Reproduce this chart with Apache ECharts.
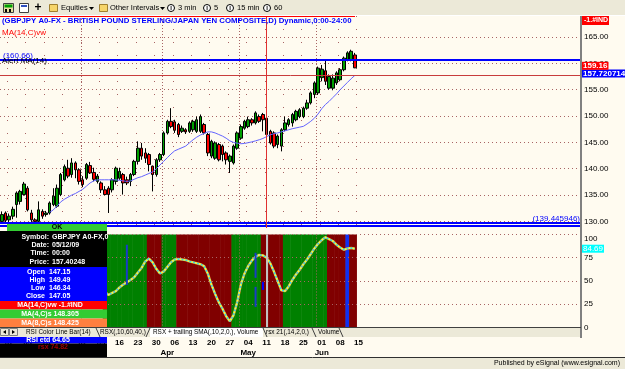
<!DOCTYPE html>
<html><head><meta charset="utf-8">
<script src="https://cdn.jsdelivr.net/npm/echarts@6/dist/echarts.min.js"></script>
<style>html,body{margin:0;padding:0;background:#fffbf0;overflow:hidden}#c{width:625px;height:369px}</style>
</head><body><div id="c"></div>
<script>
// ---------- data ----------
const firstDate = '2009-01-29';
const dayCount = 158;
const opens  = [130.0,131.6,130.3,131.0,133.2,133.8,135.1,136.3,131.6,130.3,130.0,131.9,131.3,131.6,133.2,132.9,135.1,137.9,140.1,138.9,141.1,139.8,137.9,138.2,140.6,139.3,137.6,137.3,136.0,136.3,136.0,137.6,138.2,138.9,137.9,137.6,138.9,141.4,143.9,143.0,142.7,140.5,138.9,141.7,142.7,146.8,149.0,148.9,148.4,147.1,147.4,147.1,147.4,147.1,147.1,148.4,146.5,142.4,142.0,144.6,144.3,143.0,141.4,141.1,143.9,145.8,147.7,148.0,149.3,148.7,149.9,150.3,149.6,147.1,146.8,144.6,144.3,147.4,148.4,148.7,149.3,149.9,149.9,151.5,152.5,154.1,154.4,157.3,158.6,155.3,155.3,156.3,156.9,158.8,160.7,160.7,161.6];
const highs  = [131.9,131.9,131.5,132.8,135.7,136.0,137.5,136.7,132.2,130.6,133.8,132.3,132.0,133.8,136.3,137.0,139.2,140.8,141.7,142.0,141.4,140.1,138.6,141.1,141.3,140.2,139.0,137.6,136.7,136.7,138.2,140.4,140.2,139.2,138.5,139.2,141.7,145.2,144.9,143.9,143.0,140.6,142.0,143.0,147.1,149.3,151.5,149.3,148.7,148.2,147.7,149.0,149.3,149.9,150.3,148.7,146.8,145.5,145.2,144.9,144.6,143.3,142.7,144.6,147.1,148.4,149.3,149.9,149.6,150.9,150.3,150.6,150.0,147.4,147.1,146.5,147.7,149.9,149.6,150.6,151.2,151.5,151.8,153.1,154.7,156.6,159.4,159.7,160.6,157.9,157.9,158.5,159.1,161.3,162.3,162.6,162.0];
const lows   = [129.7,129.7,129.5,130.4,130.7,133.2,134.9,131.9,129.9,129.7,129.7,130.5,130.9,131.3,132.9,132.6,134.8,137.6,138.2,138.3,138.2,137.0,136.5,137.9,139.0,137.6,137.2,135.4,135.0,131.6,135.5,137.0,137.9,135.1,136.9,136.7,138.6,140.8,141.7,141.1,139.5,135.7,138.5,141.3,142.4,146.5,147.7,146.8,146.0,146.8,146.6,146.8,147.0,146.8,146.8,146.5,142.4,142.0,141.7,141.4,141.4,140.8,139.2,140.8,143.6,145.5,147.4,147.7,148.2,148.4,148.7,147.1,146.1,144.6,143.9,143.9,143.3,147.1,148.0,148.0,149.0,149.6,149.6,151.2,152.2,153.4,154.0,156.6,155.9,155.0,154.9,155.9,156.6,158.5,160.4,160.4,159.1];
const closes = [131.3,130.2,131.0,132.3,135.4,135.7,137.1,132.2,130.3,130.0,132.2,131.0,131.6,133.5,134.8,136.3,138.9,140.4,138.6,141.1,139.8,137.6,137.0,140.8,139.2,138.0,138.6,136.0,135.1,135.1,137.9,140.1,139.5,137.3,137.3,138.9,141.4,143.9,142.4,142.0,140.8,138.9,141.7,142.7,146.8,149.0,148.0,147.3,146.5,147.7,147.0,148.7,149.0,149.3,149.9,146.8,143.0,145.2,144.9,141.7,142.7,141.7,142.4,144.3,146.8,148.0,149.0,149.3,148.7,150.6,149.0,149.3,146.5,144.9,144.3,146.2,147.4,148.7,149.3,150.3,150.9,151.2,151.5,152.5,154.4,156.3,159.1,158.9,156.6,157.5,157.2,158.2,158.8,161.0,162.0,162.3,159.16];
// MA(14,C)vw, starting at bar 13
const maStart = 13;
const maValues = [131.7,132.2,132.9,133.7,134.2,134.6,135.0,135.3,135.7,136.1,136.7,137.3,137.7,137.9,137.9,137.9,137.9,137.9,137.9,137.8,137.7,137.6,137.7,138.0,138.3,138.5,138.8,139.1,139.4,140.0,140.7,141.4,142.1,142.8,143.4,143.7,144.0,144.3,144.9,145.5,146.0,146.4,146.7,147.0,147.0,146.8,146.5,146.2,145.8,145.3,145.0,144.85,144.75,144.8,144.95,145.1,145.3,145.5,145.75,146.1,146.45,146.65,146.8,147.0,147.2,147.4,147.6,147.75,147.9,148.05,148.5,149.0,149.6,150.4,151.4,152.2,152.8,153.5,154.2,155.0,155.7,156.4,157.1,157.72];
// RSX oscillator, starting at bar 28
const rsxStart = 28;
const rsxValues = [38,35,37,39,43,46,48.5,51,54,59,64,71,74,70,63,58,60,65,70,73,73.5,73,72.5,71,70,69,68,66,58,46,36,27,20,12,6.5,13,27,46,58,66,72,76,78,77.5,75,69,60,50,40,39,44,51,57,62,68,73,79,85,90,94,97,95,93,89,86,83.5,85,85.5,84.69];
const bandCodes = ('gggggggggggg'+'rrrr'+'gggg'+'rrrrrrrrrrrrrrr'+'gggggggg'+'rrrrrr'+'gggggggggggg'+'rrrrr'+'b'+'rr').split('');
// blue marker segments in the oscillator pane: [bar index, low, high]
const markerBars = [34, 69, 69, 71];
const markerLows = [45.7, 53.3, 22, 40.3];
const markerHighs = [89, 80.3, 43.6, 49];
// reference levels
const alertLevel = 160.66;
const maLastLevel = 157.720714;
const lastPrice = 159.16;
const bottomLevels = [129.73, 129.16];
const rsxLast = 84.69;
const cursorDate = '2009-05-11';
// ticks
const priceTicks = [130,135,140,145,150,155,160,165];
const weekTickDates = ['2009-02-02','2009-02-09','2009-02-16','2009-02-23','2009-03-02','2009-03-09','2009-03-16','2009-03-23','2009-03-30','2009-04-06','2009-04-13','2009-04-20','2009-04-27','2009-05-04','2009-05-11','2009-05-18','2009-05-25','2009-06-01','2009-06-08','2009-06-15'];
const monthLabelDates = ['2009-04-02','2009-05-04','2009-06-01'];
const monthLabels = ['Apr','May','Jun'];
const monthLineDates = ['2009-03-02','2009-04-01','2009-04-30','2009-05-29'];

// ---------- build ----------
function weekdays(start, n){
  const out=[]; const d=new Date(start+'T00:00:00Z');
  while(out.length<n){ const w=d.getUTCDay(); if(w>0&&w<6) out.push(d.toISOString().slice(0,10)); d.setUTCDate(d.getUTCDate()+1); }
  return out;
}
const dates = weekdays(firstDate, dayCount);
const ohlc = opens.map((o,i)=>[o, closes[i], lows[i], highs[i]]);
const maData = dates.map((d,i)=> (i>=maStart && i-maStart<maValues.length) ? maValues[i-maStart] : null);
const rsxData = dates.map((d,i)=> (i>=rsxStart && i-rsxStart<rsxValues.length) ? rsxValues[i-rsxStart] : null);
const bandColor = {g:'#008000', r:'#800000', b:'#1030f0'};
const bandData = dates.map((d,i)=>{
  const c = bandCodes[i-rsxStart];
  return (i>=rsxStart && c) ? {value:100, itemStyle:{color:bandColor[c]}} : null;
});
const markerData = markerBars.map((b,i)=>({value:[b, markerLows[i], markerHighs[i]], itemStyle:{color: i===3 ? '#0000ff' : '#1a3cc8'}}));

const FONT = '"Liberation Sans", Arial, sans-serif';
const dot = '#a86464';
const clear = 'rgba(0,0,0,0)';

function T(x,y,text,o){ o=o||{}; return {type:'text', x:x, y:y, z:110, silent:true,
  style:{text:text, fill:o.fill||'#000', font:(o.bold?'bold ':'')+(o.size||8)+'px '+FONT,
    textAlign:o.align||'left', align:o.align||'left', textVerticalAlign:'middle', verticalAlign:'middle'}}; }
function R(x,y,w,h,fill,stroke){ return {type:'rect', z:100, silent:true, shape:{x:x,y:y,width:w,height:h}, style:{fill:fill, stroke:stroke||null, lineWidth:1}}; }
function L(x1,y1,x2,y2,stroke,w){ return {type:'line', z:105, silent:true, shape:{x1:x1,y1:y1,x2:x2,y2:y2}, style:{stroke:stroke, lineWidth:w||1}}; }
function P(points, fill){ return {type:'polygon', z:106, silent:true, shape:{points:points}, style:{fill:fill}}; }
function C(cx,cy,r){ return {type:'circle', z:106, silent:true, shape:{cx:cx,cy:cy,r:r}, style:{fill:'#fff', stroke:'#000', lineWidth:1}}; }

const g = [];
// toolbar
g.push(R(0,0,625,16,'#ece9d8'));
g.push(L(0,15.5,625,15.5,'#ffffff',1));
g.push(R(3.5,3.5,10,9,'#e8e0a0','#404040'));
g.push(R(4.5,4.5,8,3,'#00a000'));
g.push(R(5,9,2,3,'#000'),R(9,9,2,3,'#000'));
g.push(R(19.5,3.5,9,9,'#ffffff','#404040'));
g.push(R(21,5,6,2,'#3050c0'));
g.push(T(38,8,'+',{bold:true,size:12,align:'center'}));
g.push(R(49.5,4.5,8,7,'#f6d56a','#a08030'));
g.push(T(61,8,'Equities',{size:7.5}));
g.push(P([[89,7],[94,7],[91.5,10]],'#000'));
g.push(R(99.5,4.5,8,7,'#f6d56a','#a08030'));
g.push(T(110,8,'Other Intervals',{size:7.5}));
g.push(P([[160,7],[165,7],[162.5,10]],'#000'));
[[171,178,'3 min'],[207,214,'5'],[230,237,'15 min'],[267,274,'60']].forEach(function(a){
  g.push(C(a[0],8,3.5)); g.push(T(a[0],8,'I',{bold:true,size:6,align:'center'})); g.push(T(a[1],8,a[2],{size:7.5}));
});
// chart title & labels
g.push(L(0,16.5,355,16.5,'#ff0000',1));
g.push(T(2,21,'(GBPJPY A0-FX - BRITISH POUND STERLING/JAPAN YEN COMPOSITE,D) Dynamic,0:00-24:00',{bold:true,size:7.8,fill:'#0000ff'}));
g.push(T(2,33,'MA(14,C)vw',{fill:'#ff0000'}));
g.push(T(2,61,'Alert MA(14)',{fill:'#000'}));
g.push(R(582,16,27,9,'#ff0000'));
g.push(T(584,20.5,'-1.#IND',{bold:true,size:7,fill:'#fff'}));
// right axis separator
g.push(L(581,16,581,338,'#808080',2));
// tab bar
g.push(R(0,327,581,10,'#ece9d8'));
g.push(L(0,327.5,581,327.5,'#404040',1));
g.push(R(150,328,113,9,'#ffffff'));
g.push(L(150,328,146,337,'#404040',1),L(263,328,267,337,'#404040',1));
g.push(L(96,328,100,337,'#404040',1),L(312,328,316,337,'#404040',1),L(339,328,343,337,'#404040',1));
g.push(T(26,332.5,'RSI Color Line Bar(14)',{size:6.4}));
g.push(T(100,332.5,'RSX(,10,60,40,)',{size:6.4}));
g.push(T(153,332.5,'RSX + trailing SMA(,10,2,0,), Volume',{size:6.4}));
g.push(T(266,332.5,'rsx 21(,14,2,0,)',{size:6.4}));
g.push(T(318,332.5,'Volume',{size:6.4}));
// bottom status strip
g.push(L(0,357.5,625,357.5,'#303030',1));
g.push(R(0,358,625,11,'#ece9d8'));
g.push(T(620,363.5,'Published by eSignal (www.esignal.com)',{size:7,align:'right'}));
// data window
g.push(R(7,224,100,7,'#33cc33'));
g.push(T(57,227.5,'OK',{size:7,bold:true,align:'center'}));
g.push(R(0,231,107,36,'#000000'));
[['Symbol:','GBPJPY A0-FX,0',236.7],['Date:','05/12/09',245],['Time:','00:00',253.3],['Price:','157.40248',261.7]].forEach(function(r){
  g.push(T(49,r[2],r[0],{bold:true,size:7,fill:'#fff',align:'right'})); g.push(T(52,r[2],r[1],{bold:true,size:7,fill:'#fff'}));
});
g.push(R(0,267,107,34,'#0000ff'));
[['Open','147.15',271.7],['High','149.49',280],['Low','146.34',288.3],['Close','147.05',296.3]].forEach(function(r){
  g.push(T(45,r[2],r[0],{bold:true,size:7,fill:'#fff',align:'right'})); g.push(T(49,r[2],r[1],{bold:true,size:7,fill:'#fff'}));
});
g.push(R(0,301,107,8.5,'#ff0000'));
g.push(T(50,305.3,'MA(14,C)vw -1.#IND',{bold:true,size:7,fill:'#fff',align:'center'}));
g.push(R(0,309.5,107,9,'#33cc33'));
g.push(T(50,314,'MA(4,C)s 148.305',{bold:true,size:7,fill:'#fff',align:'center'}));
g.push(R(0,318.5,107,8.5,'#ff7f3f'));
g.push(T(50,322.7,'MA(8,C)s 148.425',{bold:true,size:7,fill:'#fff',align:'center'}));
g.push(R(0,337,107,6.5,'#0000ff'));
g.push(T(48,340.3,'RSI etd 64.65',{bold:true,size:7,fill:'#fff',align:'center'}));
g.push(R(0,343.5,107,13.5,'#000000'));
g.push(T(53,347.3,'rsx 74.82',{bold:true,size:7,fill:'#a00000',align:'center'}));
g.push(R(0.5,328.5,8,7,'#ece9d8','#808080'), R(9.5,328.5,8,7,'#ece9d8','#808080'));
g.push(P([[3,332],[6,330],[6,334]],'#000'), P([[15,332],[12,330],[12,334]],'#000'));

const option = {
  animation:false,
  backgroundColor:'#fffbf0',
  textStyle:{fontFamily:FONT},
  grid:[{left:0, top:16, width:581, height:212},{left:0, top:234.5, width:581, height:92.8}],
  xAxis:[
    {gridIndex:0, type:'category', data:dates, boundaryGap:true, axisLine:{show:false}, axisTick:{show:false}, axisLabel:{show:false},
     splitLine:{show:true, interval:function(i,v){return monthLineDates.indexOf(v)>=0;}, lineStyle:{color:dot, type:[1,2], width:1}}},
    {gridIndex:1, type:'category', data:dates, boundaryGap:true, axisLine:{show:false}, axisTick:{show:false},
     axisLabel:{interval:function(i,v){return weekTickDates.indexOf(v)>=0;}, formatter:function(v){return v.slice(8);}, margin:11, fontSize:8, fontWeight:'bold', color:'#000'},
     splitLine:{show:true, interval:function(i,v){return monthLineDates.indexOf(v)>=0;}, lineStyle:{color:dot, type:[1,2], width:1}}},
    {gridIndex:1, type:'category', data:dates, boundaryGap:true, position:'bottom', offset:10, axisLine:{show:false}, axisTick:{show:false},
     axisLabel:{interval:function(i,v){return monthLabelDates.indexOf(v)>=0;}, formatter:function(v){var k=monthLabelDates.indexOf(v);return k>=0?monthLabels[k]:'';}, margin:11, fontSize:8, fontWeight:'bold', color:'#000'},
     splitLine:{show:false}},
    {gridIndex:0, type:'category', data:dates, boundaryGap:true, axisLine:{show:false}, axisTick:{show:false}, axisLabel:{show:false},
     splitLine:{show:true, interval:function(i,v){return weekTickDates.indexOf(v)>=0;}, lineStyle:{color:dot, type:[1,12], width:1}}}
  ],
  yAxis:[
    {gridIndex:0, type:'value', position:'right', min:128.75, max:169, scale:true,
     axisLine:{show:false}, axisTick:{show:false, customValues:priceTicks},
     axisLabel:{customValues:priceTicks, formatter:function(v){return v.toFixed(2);}, fontSize:8, color:'#000', margin:3},
     splitLine:{show:true, lineStyle:{color:dot, type:[1,3], width:1}}},
    {gridIndex:1, type:'value', position:'right', min:0, max:100, interval:25,
     axisLine:{show:false}, axisTick:{show:false},
     axisLabel:{formatter:function(v){return v===100?'{a|100}':String(v);}, rich:{a:{padding:[9,0,0,0], fontSize:8, color:'#000'}}, fontSize:8, color:'#000', margin:3},
     splitLine:{show:true, lineStyle:{color:dot, type:[1,3], width:1}}}
  ],
  series:[
    {type:'candlestick', xAxisIndex:0, yAxisIndex:0, data:ohlc, barWidth:3,
     itemStyle:{color:'#00a000', color0:'#ff0000', borderColor:'#000', borderColor0:'#000', borderWidth:1},
     markLine:{silent:true, symbol:'none', animation:false, data:[
       {yAxis:alertLevel, lineStyle:{color:'#0000ff', width:2, type:'solid'}, label:{show:true, position:'insideStartTop', formatter:'('+alertLevel.toFixed(2)+')', color:'#0000ff', fontSize:8, distance:[3,0]}},
       {yAxis:maLastLevel, lineStyle:{color:'#c83c3c', width:1, type:'solid'}, label:{show:true, position:'end', formatter:String(maLastLevel), color:'#fff', backgroundColor:'#0000ff', fontSize:8, fontWeight:'bold', padding:[0,1,0,1], distance:1, offset:[0,-2]}},
       {yAxis:lastPrice, lineStyle:{color:clear, width:1, type:'solid'}, label:{show:true, position:'end', formatter:lastPrice.toFixed(2), color:'#fff', backgroundColor:'#ff0000', fontSize:8, fontWeight:'bold', padding:[0,1,0,1], distance:1, offset:[0,-2]}},
       {yAxis:bottomLevels[0], lineStyle:{color:'#0000ff', width:2, type:'solid'}, label:{show:true, position:'insideEndTop', formatter:'(139.445946)', color:'#0000ff', fontSize:8, distance:[1,0]}},
       {yAxis:bottomLevels[1], lineStyle:{color:'#0000ff', width:2, type:'solid'}, label:{show:false}},
       {xAxis:cursorDate, lineStyle:{color:'#e03030', width:1, type:'solid'}, label:{show:false}}
     ]}},
    {type:'line', xAxisIndex:0, yAxisIndex:0, data:maData, symbol:'none', lineStyle:{color:'#6464ff', width:1}},
    {type:'bar', xAxisIndex:1, yAxisIndex:1, data:bandData, barWidth:4.2, z:-1, silent:true},
    {type:'line', xAxisIndex:1, yAxisIndex:1, data:rsxData, symbol:'none', lineStyle:{color:'#ff9020', width:2.5}},
    {type:'line', xAxisIndex:1, yAxisIndex:1, data:rsxData, symbol:'none', lineStyle:{color:'#30d8f0', width:1.5}},
    {type:'line', xAxisIndex:1, yAxisIndex:1, data:rsxData, symbol:'none', lineStyle:{color:'#ffff30', width:1.5, type:[2,2]},
     markLine:{silent:true, symbol:'none', animation:false, data:[
       {xAxis:cursorDate, lineStyle:{color:'#c0c0c0', width:2, type:'solid'}, label:{show:false}},
       {yAxis:rsxLast, lineStyle:{color:clear, width:1, type:'solid'}, label:{show:true, position:'end', formatter:rsxLast.toFixed(2), color:'#fff', backgroundColor:'#00ffff', fontSize:8, padding:[0,1,0,1], distance:1}}
     ]}},
    {type:'custom', xAxisIndex:1, yAxisIndex:1, data:markerData, z:5,
     renderItem:function(params, api){
       var a=api.coord([api.value(0), api.value(1)]), b=api.coord([api.value(0), api.value(2)]);
       return {type:'line', shape:{x1:a[0],y1:a[1],x2:b[0],y2:b[1]}, style:{stroke:api.visual('color'), lineWidth:2}};
     }}
  ],
  graphic:{elements:g}
};
const chart = echarts.init(document.getElementById('c'), null, {renderer:'canvas'});
chart.setOption(option);
</script>
</body></html>
